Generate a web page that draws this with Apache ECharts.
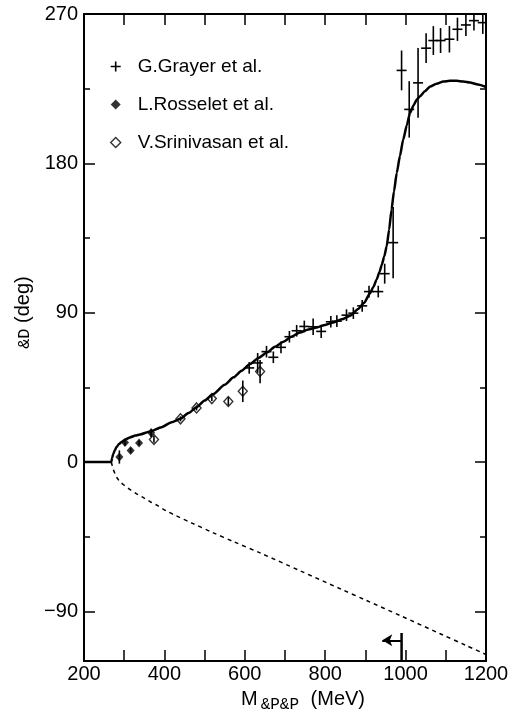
<!DOCTYPE html>
<html>
<head>
<meta charset="utf-8">
<script src="https://cdn.jsdelivr.net/npm/echarts@6/dist/echarts.min.js"></script>
<style>
  html, body { margin: 0; background: #fff; }
  #chart { width: 512px; height: 718px; }
</style>
</head>
<body>
<div id="chart"></div>
<script>
// theory curve (solid) and its second branch (dashed)
const theoryX = [200, 268, 270, 273, 277, 281, 287, 294, 304, 314, 328, 339, 364, 393, 418, 439, 460, 480, 500, 522, 550, 572, 592, 613, 634, 655, 675, 696, 716, 737, 758, 779, 800, 820, 841, 862, 882, 897, 911, 920, 928, 935, 941, 947, 953, 959, 965, 971, 978, 986, 994, 1003, 1011, 1020, 1028, 1036, 1048, 1061, 1077, 1094, 1110, 1127, 1144, 1160, 1180, 1200]
const theoryY = [0, 0, 2.5, 5, 7.2, 9, 10.8, 12.2, 13.7, 14.8, 15.9, 16.6, 18.4, 21, 24, 26, 29.5, 33, 37, 41, 46.5, 51, 55, 59, 62.7, 66, 69.5, 72.5, 75.5, 78.1, 79.8, 81.1, 82.6, 84.1, 86, 88.1, 92.2, 96, 101.5, 105.5, 110, 114.5, 119, 124, 130, 140, 152, 163, 174.2, 184.5, 194.3, 203, 210.3, 215, 218.5, 220.5, 223.5, 226.3, 228, 229.3, 229.7, 229.7, 229.3, 228.7, 227.5, 226]
const branchX = [268, 270, 273, 277, 282, 290, 300, 314, 330, 348, 365, 381, 405, 430, 470, 520, 572, 640, 737, 841, 903, 986, 1086, 1150, 1200]
const branchY = [0, -2, -4.5, -7, -9.5, -12, -14, -16.5, -19, -21.5, -24, -26, -29.5, -32.5, -37, -42.5, -48, -55, -65.5, -76.8, -83.5, -92.5, -103.5, -110.5, -116]

// G.Grayer et al.
const grayerX = [611, 632, 654, 671, 690, 711, 729, 748, 770, 790, 814, 829, 853, 870, 892, 909, 932, 948, 969, 990, 1009, 1031, 1051, 1069, 1087, 1109, 1129, 1150, 1170, 1192]
const grayerY = [56.7, 59.7, 66.5, 63.1, 69.1, 75.5, 79.1, 81.7, 81.5, 78.7, 84.5, 84.9, 88.5, 89.7, 94.1, 102.7, 102.7, 113.5, 132.2, 236, 212.5, 228.5, 249.4, 254, 254, 254.8, 260.8, 263.4, 266, 264.8]
const grayerErr = [3.5, 6, 3.5, 3.5, 3.5, 3.5, 3.5, 3.5, 5, 4, 3.5, 3.5, 3.5, 3.5, 3.5, 3.5, 3.5, 6, 21.5, 12, 17, 21, 9, 8.7, 7.5, 8, 7, 6.6, 6, 6.8]

// L.Rosselet et al.
const rosseletX = [288, 302, 316, 337, 367]
const rosseletY = [3.0, 11.8, 7.0, 11.5, 17.6]
const rosseletErr = [4, 2, 1.5, 1.5, 2.5]

// V.Srinivasan et al.
const srinivasanX = [374, 440, 480, 518, 559, 595, 638]
const srinivasanY = [13.6, 26, 32.6, 38.2, 36.5, 42.6, 54.5]
const srinivasanErr = [2, 1.5, 1.5, 1.5, 2.5, 6.5, 7]

// KK threshold marker
const markerX = 990
const markerY = [-103, -120]
const arrowX = [990, 942]
const arrowY = -107.5

// axes
const xTickLabels = [200, 400, 600, 800, 1000, 1200]
const yTickLabels = [-90, 0, 90, 180, 270]
const yMinorTicks = [-45, 45, 135, 225]

const pts = (xs, ys, es) => xs.map((x, i) => es ? [x, ys[i], es[i]] : [x, ys[i]])

const black = '#000'
const font = 'Liberation Sans'
const lineSt = { stroke: black, lineWidth: 1.6 }
const diamondPath = 'path://M5,0L10,5L5,10L0,5Z'

function crossItem(params, api) {
  const c = api.coord([api.value(0), api.value(1)])
  const hi = api.coord([api.value(0), api.value(1) + api.value(2)])
  const lo = api.coord([api.value(0), api.value(1) - api.value(2)])
  return {
    type: 'group',
    children: [
      { type: 'line', shape: { x1: c[0] - 5, y1: c[1], x2: c[0] + 5, y2: c[1] }, style: lineSt },
      { type: 'line', shape: { x1: c[0], y1: hi[1], x2: c[0], y2: lo[1] }, style: lineSt }
    ]
  }
}

function barItem(params, api) {
  const hi = api.coord([api.value(0), api.value(1) + api.value(2)])
  const lo = api.coord([api.value(0), api.value(1) - api.value(2)])
  return { type: 'line', shape: { x1: hi[0], y1: hi[1], x2: lo[0], y2: lo[1] }, style: lineSt }
}

const frame = { show: true, onZero: false, lineStyle: { color: black, width: 2 } }
const tickSt = { color: black, width: 1.5 }

function xAx(pos) {
  return {
    type: 'value', position: pos, min: 200, max: 1200, interval: 100,
    axisLine: frame,
    axisTick: { inside: true, length: 11, lineStyle: tickSt },
    axisLabel: pos === 'bottom'
      ? { customValues: xTickLabels, fontSize: 20, fontFamily: font, color: black, margin: 3, formatter: v => String(v) }
      : { show: false },
    splitLine: { show: false }
  }
}

function yAx(pos, ticks, len, labels) {
  return {
    type: 'value', position: pos, min: -120, max: 270,
    axisLine: frame,
    axisTick: { inside: true, length: len, customValues: ticks, lineStyle: tickSt },
    axisLabel: labels
      ? {
          customValues: yTickLabels, fontSize: 20, fontFamily: font, color: black, margin: 6,
          formatter: v => (v < 0 ? '\u2212' + (-v) : String(v))
        }
      : { show: false },
    splitLine: { show: false }
  }
}

const chart = echarts.init(document.getElementById('chart'))

const xAxes = [xAx('bottom'), xAx('top')]
xAxes[0].name = '{m|M}{s|&P&P}{m| (MeV)}'
xAxes[0].nameLocation = 'middle'
xAxes[0].nameGap = 22
xAxes[0].nameTextStyle = {
  padding: [0, 0, 0, 36],
  rich: {
    m: { fontSize: 20, fontFamily: font, color: black },
    s: { fontSize: 16, fontFamily: 'Liberation Mono', color: black, padding: [12, 6, 0, 3] }
  }
}

const yAxes = [
  yAx('left', yTickLabels, 11, true),
  yAx('left', yMinorTicks, 6, false),
  yAx('right', yTickLabels, 11, false),
  yAx('right', yMinorTicks, 6, false)
]
yAxes[0].name = '{s|&D}{m| (deg)}'
yAxes[0].nameLocation = 'middle'
yAxes[0].nameGap = 50
yAxes[0].nameTextStyle = {
  padding: [0, 0, 0, 50],
  rich: {
    m: { fontSize: 20, fontFamily: font, color: black },
    s: { fontSize: 17, fontFamily: 'Liberation Mono', color: black, padding: [3, 0, 0, 0] }
  }
}

chart.setOption({
  animation: false,
  backgroundColor: '#fff',
  grid: { left: 84, right: 26, top: 14, bottom: 55 },
  xAxis: xAxes,
  yAxis: yAxes,
  legend: {
    orient: 'vertical',
    left: 105,
    top: 52,
    itemWidth: 24,
    itemHeight: 10,
    itemGap: 19,
    selectedMode: false,
    textStyle: { fontSize: 19, fontFamily: font, color: black, padding: [0, 0, 0, 5] },
    data: [
      { name: 'G.Grayer et al.', icon: 'path://M0,4.2L10,4.2L10,5.8L0,5.8Z M4.2,0L5.8,0L5.8,10L4.2,10Z', itemStyle: { borderWidth: 0 } },
      { name: 'L.Rosselet et al.', icon: diamondPath, itemStyle: { borderWidth: 0 } },
      { name: 'V.Srinivasan et al.', icon: diamondPath, itemStyle: { borderWidth: 1.4 } }
    ]
  },
  series: [
    {
      name: 'theory', type: 'line', data: pts(theoryX, theoryY),
      showSymbol: false, smooth: 0.2, smoothMonotone: 'x', silent: true, z: 3,
      lineStyle: { color: black, width: 2.5 }
    },
    {
      name: 'branch', type: 'line', data: pts(branchX, branchY),
      showSymbol: false, smooth: 0.3, silent: true, z: 3,
      lineStyle: { color: black, width: 1.5, type: [4, 4] }
    },
    {
      name: 'marker', type: 'line', data: markerY.map(y => [markerX, y]),
      showSymbol: false, silent: true,
      lineStyle: { color: black, width: 2.5 },
      markLine: {
        silent: true,
        symbol: ['none', 'arrow'],
        symbolSize: [9, 10],
        label: { show: false },
        lineStyle: { color: black, width: 2, type: 'solid' },
        data: [[{ coord: [arrowX[0], arrowY] }, { coord: [arrowX[1], arrowY] }]]
      }
    },
    {
      name: 'G.Grayer et al.', type: 'custom', clip: true, silent: true, z: 4,
      itemStyle: { color: black },
      renderItem: crossItem,
      data: pts(grayerX, grayerY, grayerErr)
    },
    {
      name: 'rosselet-err', type: 'custom', clip: true, silent: true, z: 4,
      renderItem: barItem,
      data: pts(rosseletX, rosseletY, rosseletErr)
    },
    {
      name: 'srinivasan-err', type: 'custom', clip: true, silent: true, z: 4,
      renderItem: barItem,
      data: pts(srinivasanX, srinivasanY, srinivasanErr)
    },
    {
      name: 'L.Rosselet et al.', type: 'scatter', silent: true, z: 5,
      symbol: 'diamond', symbolSize: [8, 9],
      itemStyle: { color: black },
      data: pts(rosseletX, rosseletY)
    },
    {
      name: 'V.Srinivasan et al.', type: 'scatter', silent: true, z: 5,
      symbol: 'diamond', symbolSize: [9, 10],
      itemStyle: { color: 'rgba(255,255,255,0)', borderColor: black, borderWidth: 1.4 },
      data: pts(srinivasanX, srinivasanY)
    }
  ]
})
</script>
</body>
</html>
